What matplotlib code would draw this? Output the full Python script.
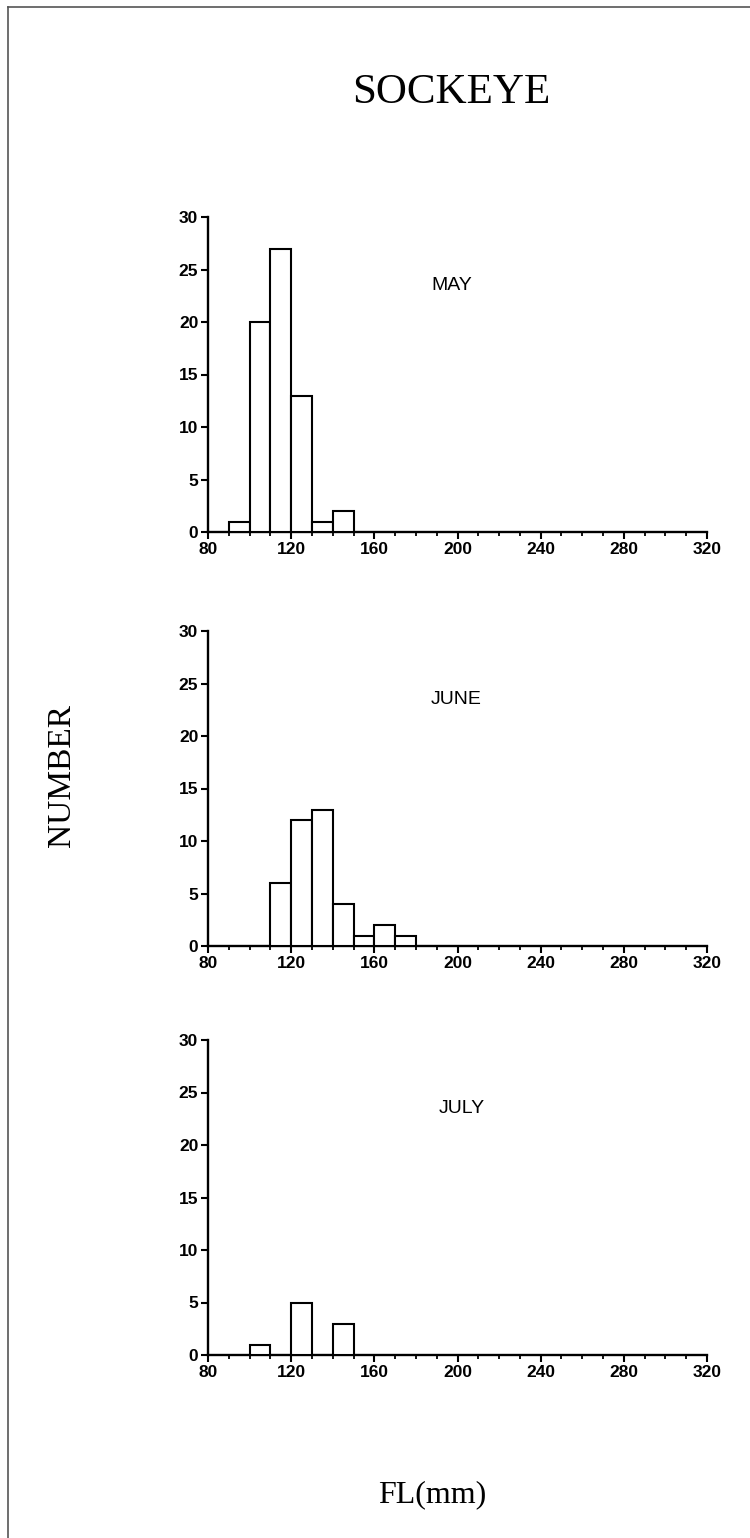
import matplotlib
matplotlib.use("Agg")
import matplotlib.pyplot as plt
from matplotlib.lines import Line2D
from matplotlib.ticker import MultipleLocator

# Data: histogram bins (left edge, mm) and counts
months = ["MAY", "JUNE", "JULY"]
may_bins = [90, 100, 110, 120, 130, 140]
may_counts = [1, 20, 27, 13, 1, 2]
june_bins = [110, 120, 130, 140, 150, 160, 170]
june_counts = [6, 12, 13, 4, 1, 2, 1]
july_bins = [100, 120, 140]
july_counts = [1, 5, 3]
bin_width = 10
x_ticks = [80, 120, 160, 200, 240, 280, 320]
y_ticks = [0, 5, 10, 15, 20, 25, 30]

series = [(may_bins, may_counts), (june_bins, june_counts), (july_bins, july_counts)]

W, H = 750, 1538
fig = plt.figure(figsize=(W / 100, H / 100), dpi=100)

left = 208 / W
width = (707 - 208) / W
bottoms_px = [532, 946, 1355]
label_x = [197, 199.5, 202]
height = 315 / H

tick_font = dict(family="Liberation Sans", weight="bold", size=12.5)

for (bins, counts), name, b_px, lx in zip(series, months, bottoms_px, label_x):
    ax = fig.add_axes([left, 1 - b_px / H, width, height])
    ax.bar(bins, counts, width=bin_width, align="edge", facecolor="white",
           edgecolor="black", linewidth=1.5, zorder=3)
    ax.set_xlim(80, 320)
    ax.set_ylim(0, 30)
    for s in ["top", "right"]:
        ax.spines[s].set_visible(False)
    for s in ["left", "bottom"]:
        ax.spines[s].set_linewidth(1.7)
    ax.set_xticks(x_ticks)
    ax.set_yticks(y_ticks)
    ax.xaxis.set_minor_locator(MultipleLocator(10))
    ax.tick_params(axis="x", which="major", direction="out", length=5, width=1.5, pad=2)
    ax.tick_params(axis="x", which="minor", direction="out", length=3, width=1.3)
    ax.tick_params(axis="y", which="major", direction="out", length=5, width=1.5, pad=2)
    for lab in ax.get_xticklabels() + ax.get_yticklabels():
        lab.set_fontfamily(tick_font["family"])
        lab.set_fontweight(tick_font["weight"])
        lab.set_fontsize(tick_font["size"])
    ax.text(lx, 23.5, name, ha="center", va="center",
            fontfamily="Liberation Sans", fontsize=14)

fig.text(451 / W, 1 - 93 / H, "SOCKEYE", ha="center", va="center",
         fontfamily="Liberation Serif", fontsize=31)
fig.text(62 / W, 1 - 775 / H, "NUMBER", ha="center", va="center", rotation=90,
         fontfamily="Liberation Serif", fontsize=24)
fig.text(432 / W, 1 - 1495 / H, "FL(mm)", ha="center", va="center",
         fontfamily="Liberation Serif", fontsize=23)

# page frame (top and left edges)
fig.add_artist(Line2D([8 / W, 1], [1 - 7 / H, 1 - 7 / H], color="#555555", lw=1.2))
fig.add_artist(Line2D([8 / W, 8 / W], [0, 1 - 7 / H], color="#555555", lw=1.2))

fig.savefig("out.png", dpi=100, facecolor="white")
